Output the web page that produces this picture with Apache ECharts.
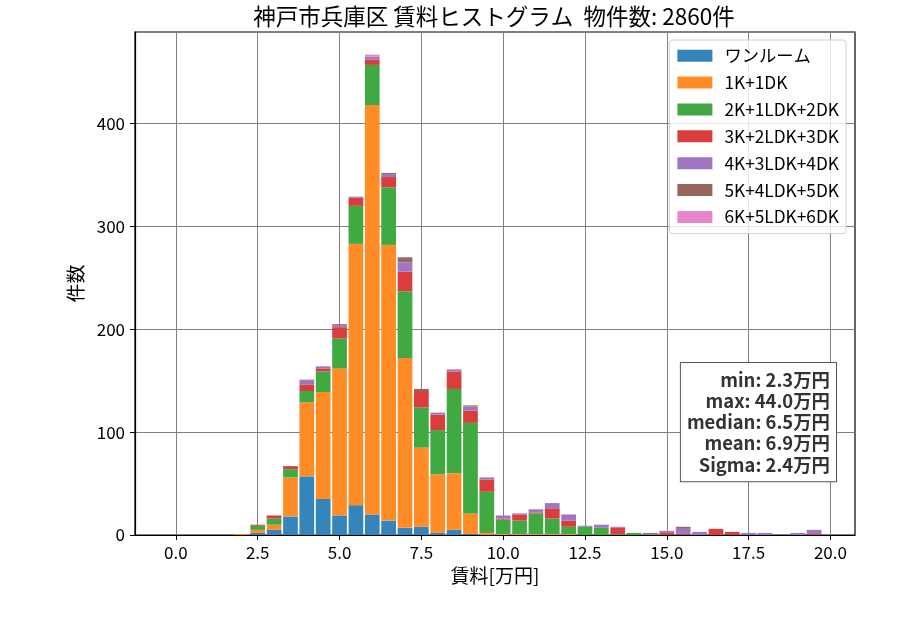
<!DOCTYPE html>
<html>
<head>
<meta charset="utf-8">
<script src="https://cdn.jsdelivr.net/npm/echarts@6/dist/echarts.min.js"></script>
<style>
html,body{margin:0;padding:0;background:#fff;}
#main{width:900px;height:630px;}
</style>
</head>
<body>
<div id="main"></div>
<script>
// 賃料ビンの中心 [万円]
var bins = [2.0,2.5,3.0,3.5,4.0,4.5,5.0,5.5,6.0,6.5,7.0,7.5,8.0,8.5,9.0,9.5,10.0,10.5,11.0,11.5,
            12.0,12.5,13.0,13.5,14.0,14.5,15.0,15.5,16.0,16.5,17.0,17.5,18.0,18.5,19.0,19.5];
var names = ['ワンルーム','1K+1DK','2K+1LDK+2DK','3K+2LDK+3DK','4K+3LDK+4DK','5K+4LDK+5DK','6K+5LDK+6DK'];
var oneRoom = [0,2,5,18,57,35,19,29,20,14,7,8,2,5,1,0,0,0,0,0,0,0,0,0,0,0,0,0,0,0,0,0,0,0,0,0];
var k1 = [1,3,5,38,72,104,143,254,398,268,165,77,57,55,20,2,1,1,1,1,1,0,0,0,0,0,0,0,0,0,0,0,0,0,0,0];
var k2 = [0,4,6,8,11,20,29,37,39,56,65,39,43,82,88,40,14,13,20,15,7,8,7,1,2,0,0,0,0,0,0,0,0,0,0,0];
var k3 = [0,1,3,3,6,3,11,8,5,10,19,16,15,17,12,12,1,6,1,10,6,0,0,6,0,0,2,1,0,6,3,0,0,0,0,1];
var k4 = [0,0,0,0,4,2,2,1,3,3,9,0,2,2,4,2,3,1,3,5,6,1,3,1,0,1,2,5,3,0,0,2,2,0,2,4];
var k5 = [0,0,0,0,1,0,1,0,0,1,5,2,0,0,1,0,0,0,0,0,0,0,0,0,0,1,0,2,0,0,0,0,0,0,0,0];
var k6 = [0,0,0,0,0,0,0,0,2,0,0,0,0,0,0,0,0,0,0,0,0,0,0,0,0,0,0,0,0,0,0,0,0,0,0,0];
var xTicks = [0,2.5,5,7.5,10,12.5,15,17.5,20];
var stats = ['min: 2.3万円','max: 44.0万円','median: 6.5万円','mean: 6.9万円','Sigma: 2.4万円'];
var colors = ['#3585bb','#ff8c26','#41a941','#da3d3e','#9f76c4','#97675d','#e685c8'];

var FONT = '"Noto Sans CJK JP", "Noto Sans", sans-serif';
var allData = [oneRoom,k1,k2,k3,k4,k5,k6];

// 描画範囲 -1.25〜20.75 を 0.5 刻みのカテゴリで覆う
var cats = [];
for (var c = -2; c <= 41; c++) {
    cats.push((c * 0.5).toFixed(1));
}

var series = [];
for (var i = 0; i < names.length; i++) {
    var pts = [];
    for (var j = 0; j < bins.length; j++) {
        pts.push([bins[j].toFixed(1), allData[i][j]]);
    }
    series.push({
        name: names[i],
        type: 'bar',
        stack: 'total',
        xAxisIndex: 0,
        barWidth: '90%',
        itemStyle: {color: colors[i]},
        emphasis: {disabled: true},
        data: pts
    });
}

var myChart = echarts.init(document.getElementById('main'), null, {renderer: 'canvas'});
var option = {
    animation: false,
    color: colors,
    textStyle: {fontFamily: FONT},
    grid: {
        left: 135, right: 45, top: 32, bottom: 95,
        show: true, borderColor: '#000', borderWidth: 1.2,
        containLabel: false
    },
    legend: {
        orient: 'vertical',
        right: 54,
        top: 40,
        icon: 'rect',
        itemWidth: 35,
        itemHeight: 12,
        itemGap: 9.6,
        padding: [7, 7, 8, 8],
        borderColor: '#d0d0d0',
        borderWidth: 1,
        borderRadius: 3,
        backgroundColor: 'rgba(255,255,255,0.8)',
        textStyle: {fontFamily: FONT, fontSize: 17.3, color: '#000', lineHeight: 17, padding: [0, 0, 0, 7]},
        data: names
    },
    xAxis: [
        {
            type: 'category',
            data: cats,
            show: false,
            boundaryGap: true
        },
        {
            type: 'value',
            min: -1.25,
            max: 20.75,
            position: 'bottom',
            name: '賃料[万円]',
            nameLocation: 'middle',
            nameGap: 31,
            nameTextStyle: {fontFamily: FONT, fontSize: 19, color: '#000'},
            axisLine: {show: true, onZero: false, lineStyle: {color: '#000', width: 1.2}},
            axisTick: {show: true, length: 5, lineStyle: {color: '#000'}, customValues: xTicks},
            axisLabel: {
                customValues: xTicks,
                fontFamily: FONT, fontSize: 17, color: '#000', margin: 9,
                formatter: function (v) { return v.toFixed(1); }
            },
            splitLine: {show: true, lineStyle: {color: '#808080', width: 1}}
        }
    ],
    yAxis: {
        type: 'value',
        min: 0,
        max: 489,
        interval: 100,
        name: '件数',
        nameLocation: 'middle',
        nameGap: 50,
        nameRotate: 90,
        nameTextStyle: {fontFamily: FONT, fontSize: 19, color: '#000'},
        axisLine: {show: true, onZero: false, lineStyle: {color: '#000', width: 1.2}},
        axisTick: {show: true, length: 5, lineStyle: {color: '#000'}},
        axisLabel: {fontFamily: FONT, fontSize: 17, color: '#000', margin: 10,
            showMaxLabel: false},
        splitLine: {show: true, lineStyle: {color: '#808080', width: 1}}
    },
    graphic: [
        {
            type: 'text',
            x: 494, y: 16,
            style: {
                text: '神戸市兵庫区 賃料ヒストグラム  物件数: 2860件',
                font: '22.5px ' + FONT,
                fill: '#000',
                align: 'center',
                verticalAlign: 'middle'
            }
        },
        {
            type: 'text',
            x: 836, y: 363,
            z: 100,
            style: {
                text: stats.join('\n'),
                font: 'bold 18.4px ' + FONT,
                fill: '#333',
                align: 'right',
                verticalAlign: 'top',
                lineHeight: 21.25,
                backgroundColor: '#fff',
                borderColor: '#555',
                borderWidth: 1,
                padding: [6, 6, 6, 6]
            }
        }
    ],
    series: series
};
myChart.setOption(option);
</script>
</body>
</html>
